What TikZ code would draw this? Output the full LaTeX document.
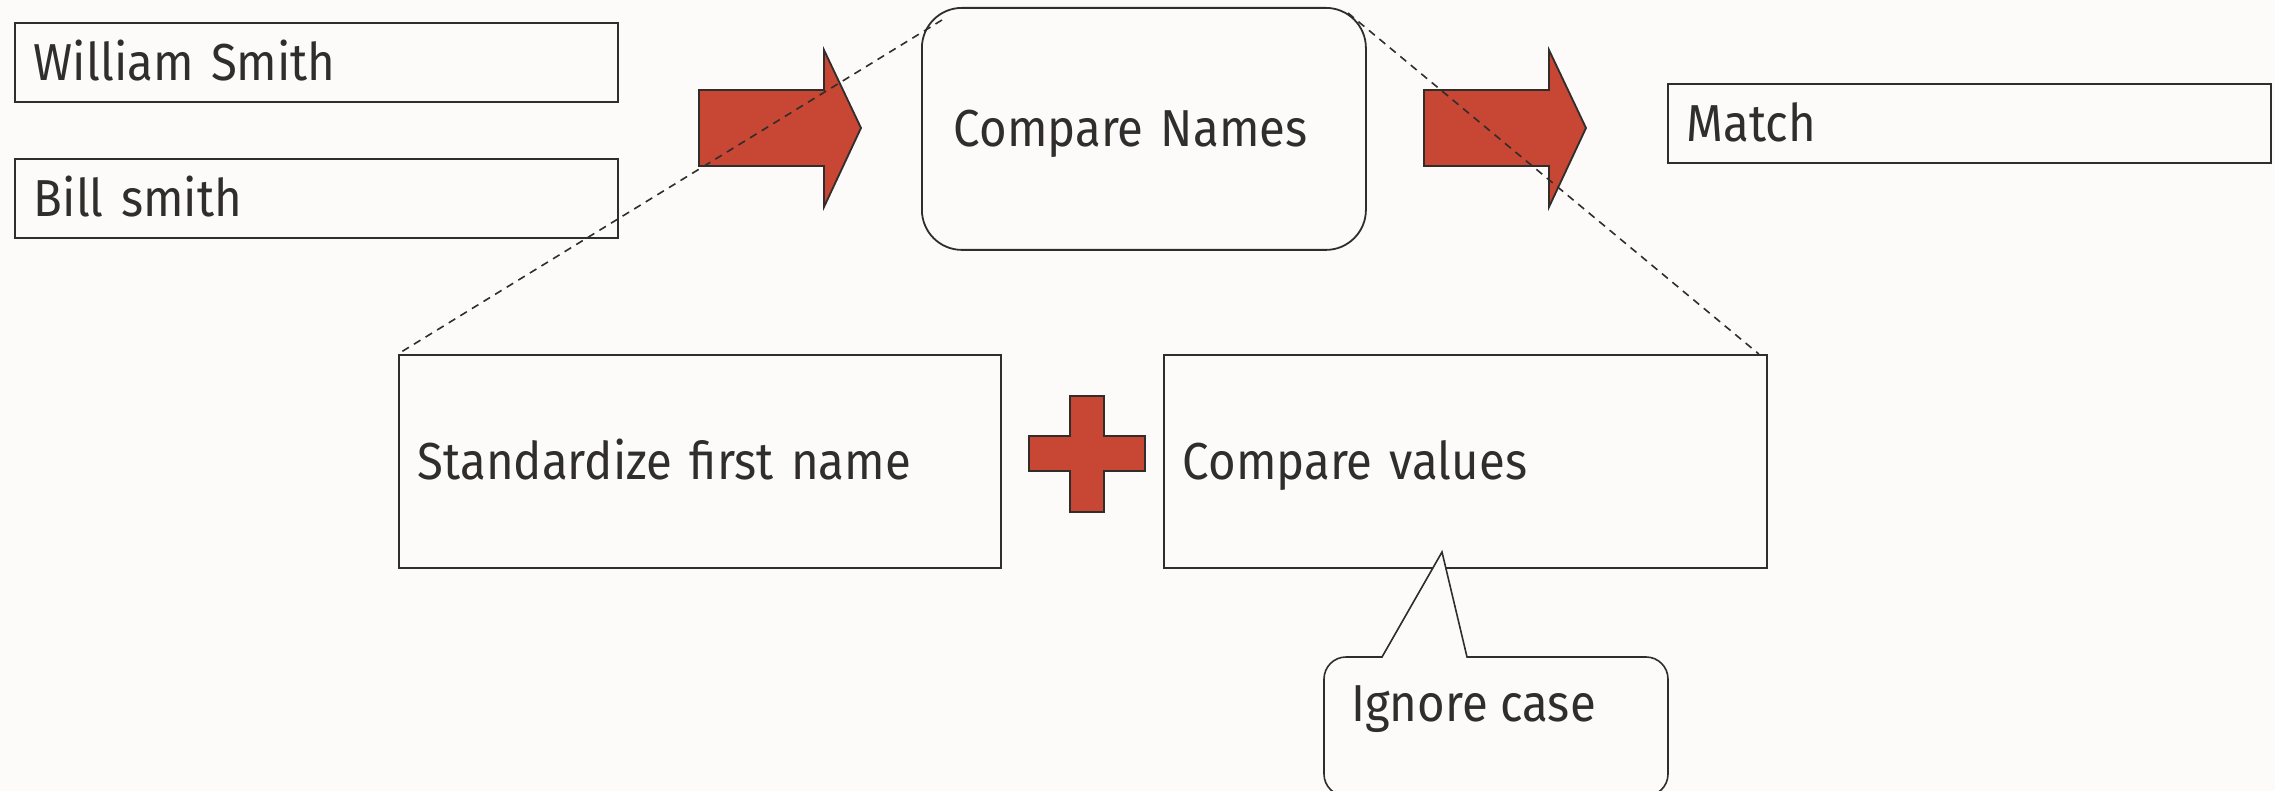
\documentclass[tikz,border=0pt]{standalone}
\usepackage{fontspec}
\setmainfont{Fira Sans}[FakeStretch=0.91]
\definecolor{bg}{RGB}{252,251,250}
\definecolor{ink}{RGB}{49,45,42}
\definecolor{brick}{RGB}{199,70,52}
\begin{document}
\begin{tikzpicture}[x=0.5pt,y=-0.5pt,
  every node/.style={font=\fontsize{26}{30}\selectfont, text=ink},
  box/.style={draw=ink, line width=0.9pt, fill=bg, inner xsep=9.5pt, inner ysep=0pt,
    anchor=north west, align=left, text height=17.9pt, text depth=0pt},
  rbox/.style={box, rounded corners=20pt, inner xsep=16pt},
  blockarrow/.style={draw=ink, line width=0.9pt, fill=brick, line join=miter},
  guide/.style={draw=ink, line width=0.8pt, dash pattern=on 3.8pt off 3pt},
  callout/.style={draw=ink, line width=0.8pt, fill=bg},
]
\fill[bg] (0,0) rectangle (2275,791);
\useasboundingbox (0,0) rectangle (2275,791);
\begin{scope}
\clip (0,0) rectangle (2275,791);

% input boxes
\node[box, text width=282.5pt, minimum height=39.5pt] (ws) at (14,22) {William Smith};
\node[box, text width=282.5pt, minimum height=39.5pt] (bs) at (14,158) {Bill smith};

% compare names
\node[rbox, text width=190pt, minimum height=121pt] (cn) at (921,7) {Compare Names};

% match
\node[box, text width=282.5pt, minimum height=39.5pt] (match) at (1667,83) {Match};

% detail boxes
\node[box, text width=282pt, minimum height=106.5pt] (std) at (398,354) {Standardize first name};
\node[box, text width=282.5pt, minimum height=106.5pt] (cv) at (1163,354) {Compare values};

% block arrows
\draw[blockarrow] (699,90) -- (824,90) -- (824,50) -- (861,128) -- (824,207) -- (824,166) -- (699,166) -- cycle;
\draw[blockarrow] (1424,90) -- (1549,90) -- (1549,50) -- (1586,128) -- (1549,207) -- (1549,166) -- (1424,166) -- cycle;

% plus sign
\draw[blockarrow] (1070,396) -- (1104,396) -- (1104,436) -- (1145,436) -- (1145,471) -- (1104,471)
  -- (1104,512) -- (1070,512) -- (1070,471) -- (1029,471) -- (1029,436) -- (1070,436) -- cycle;

% guide lines (drawn over the arrows)
\coordinate (cnL) at (942,20);
\coordinate (cnR) at (1348,13);
\coordinate (cvT) at ([xshift=-4.5pt]cv.north east);
\draw[guide] (cnL) -- (std.north west);
\draw[guide] (cnR) -- (cvT);

% callout
\coordinate (tip) at (1442,552);
\draw[callout] (1382,657) -- (tip) -- (1467,657)
  [rounded corners=11pt] -- (1668,657) -- (1668,796) -- (1324,796) -- (1324,657) [sharp corners] -- cycle;
\node[anchor=base west, inner sep=0pt] (ic) at (1351,721) {Ignore case};
\end{scope}
\end{tikzpicture}
\end{document}
